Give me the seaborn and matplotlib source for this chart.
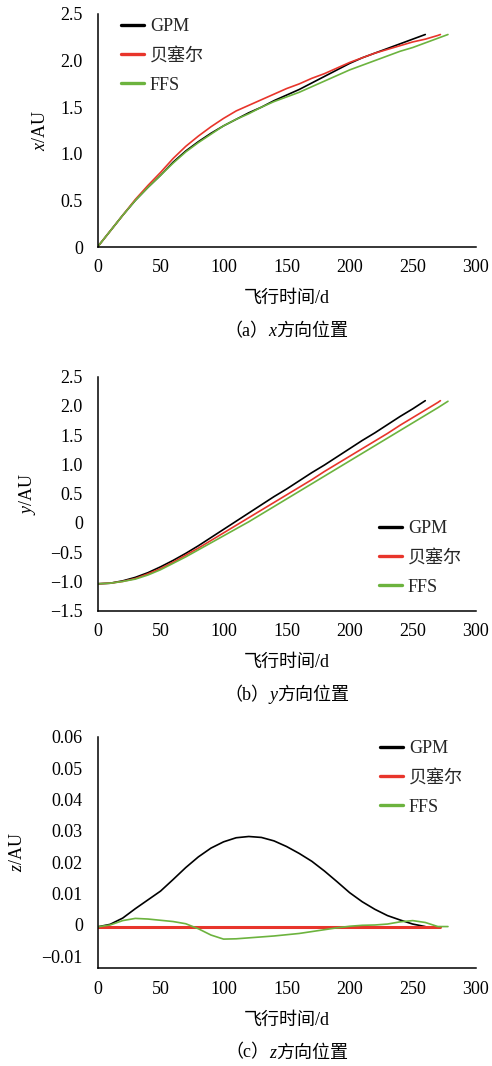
import matplotlib
matplotlib.use("Agg")
import matplotlib.pyplot as plt
from matplotlib.lines import Line2D
import pandas as pd
import seaborn as sns

methods = ["GPM", "贝塞尔", "FFS"]
colors = ["#000000", "#e8352b", "#6cb33e"]

# flight time (days) sampled per method
days_gpm = [0, 10, 20, 30, 40, 50, 60, 70, 80, 90, 100, 110, 120, 130, 140, 150,
            160, 170, 180, 190, 200, 210, 220, 230, 240, 250, 260]
days_bessel = [0, 10, 20, 30, 40, 50, 60, 70, 80, 90, 100, 110, 120, 130, 140, 150,
               160, 170, 180, 190, 200, 210, 220, 230, 240, 250, 260, 270, 272]
days_ffs = [0, 10, 20, 30, 40, 50, 60, 70, 80, 90, 100, 110, 120, 130, 140, 150,
            160, 170, 180, 190, 200, 210, 220, 230, 240, 250, 260, 270, 278]

# (a) x position, AU
x_gpm = [0, 0.17, 0.34, 0.50, 0.64, 0.77, 0.91, 1.03, 1.13, 1.22, 1.30, 1.37, 1.44, 1.50,
         1.57, 1.63, 1.69, 1.76, 1.83, 1.90, 1.97, 2.03, 2.08, 2.13, 2.18, 2.23, 2.28]
x_bessel = [0, 0.17, 0.34, 0.51, 0.66, 0.80, 0.95, 1.08, 1.19, 1.29, 1.38, 1.46, 1.52, 1.58,
            1.64, 1.70, 1.75, 1.81, 1.86, 1.92, 1.98, 2.03, 2.08, 2.12, 2.16, 2.20, 2.23,
            2.27, 2.28]
x_ffs = [0, 0.17, 0.34, 0.50, 0.64, 0.77, 0.90, 1.02, 1.12, 1.21, 1.30, 1.37, 1.43, 1.50,
         1.56, 1.61, 1.66, 1.72, 1.78, 1.84, 1.90, 1.95, 2.00, 2.05, 2.10, 2.14, 2.19,
         2.24, 2.28]

# (b) y position, AU
y_gpm = [-1.04, -1.03, -0.99, -0.93, -0.85, -0.75, -0.64, -0.52, -0.39, -0.25, -0.11, 0.03,
         0.17, 0.31, 0.45, 0.58, 0.72, 0.86, 0.99, 1.13, 1.27, 1.41, 1.54, 1.68, 1.82, 1.95,
         2.09]
y_bessel = [-1.04, -1.03, -1.00, -0.95, -0.87, -0.78, -0.67, -0.55, -0.43, -0.30, -0.17,
            -0.04, 0.09, 0.22, 0.35, 0.48, 0.61, 0.74, 0.88, 1.01, 1.14, 1.27, 1.40, 1.53,
            1.67, 1.80, 1.93, 2.06, 2.09]
y_ffs = [-1.04, -1.03, -1.00, -0.96, -0.89, -0.80, -0.69, -0.58, -0.46, -0.34, -0.22, -0.10,
         0.02, 0.15, 0.28, 0.41, 0.54, 0.67, 0.80, 0.93, 1.06, 1.19, 1.32, 1.45, 1.58, 1.71,
         1.84, 1.97, 2.08]

# (c) z position, AU
z_gpm = [-0.0006, 0.0002, 0.0022, 0.0052, 0.0080, 0.0108, 0.0145, 0.0183, 0.0217, 0.0245,
         0.0265, 0.0278, 0.0282, 0.0279, 0.0268, 0.0250, 0.0228, 0.0203, 0.0172, 0.0138,
         0.0103, 0.0074, 0.0050, 0.0030, 0.0016, 0.0003, -0.0005]
z_bessel = [-0.0006, -0.0006, -0.0006, -0.0006, -0.0006, -0.0006, -0.0006, -0.0006, -0.0006,
            -0.0006, -0.0006, -0.0006, -0.0006, -0.0006, -0.0006, -0.0006, -0.0006, -0.0006,
            -0.0006, -0.0006, -0.0006, -0.0006, -0.0006, -0.0006, -0.0006, -0.0006, -0.0006,
            -0.0006, -0.0006]
z_ffs = [-0.0006, 0.0000, 0.0014, 0.0021, 0.0019, 0.0015, 0.0011, 0.0004, -0.0012, -0.0032,
         -0.0045, -0.0044, -0.0041, -0.0038, -0.0035, -0.0031, -0.0027, -0.0021, -0.0015,
         -0.0009, -0.0004, -0.0001, 0.0000, 0.0003, 0.0010, 0.0014, 0.0008, -0.0005, -0.0005]

x_ticks = [0, 50, 100, 150, 200, 250, 300]
a_ticks = [0, 0.5, 1.0, 1.5, 2.0, 2.5]
a_labels = ["0", "0.5", "1.0", "1.5", "2.0", "2.5"]
b_ticks = [-1.5, -1.0, -0.5, 0, 0.5, 1.0, 1.5, 2.0, 2.5]
b_labels = ["\u22121.5", "\u22121.0", "\u22120.5", "0", "0.5", "1.0", "1.5", "2.0", "2.5"]
c_ticks = [-0.01, 0, 0.01, 0.02, 0.03, 0.04, 0.05, 0.06]
c_labels = ["\u22120.01", "0", "0.01", "0.02", "0.03", "0.04", "0.05", "0.06"]

sns.set_theme(style="white")
plt.rcParams["font.family"] = ["Liberation Serif", "Noto Sans CJK SC"]
plt.rcParams["mathtext.fontset"] = "custom"
plt.rcParams["mathtext.it"] = "Liberation Serif:italic"
plt.rcParams["mathtext.rm"] = "Liberation Serif"

FS = 13
W, H = 492, 1066
LEFT, RIGHT = 97.5, 475.7
fig = plt.figure(figsize=(W / 100, H / 100), dpi=100)


def long_frame(days, values):
    parts = []
    for m, d, v in zip(methods, days, values):
        parts.append(pd.DataFrame({"day": d, "value": v, "method": m}))
    return pd.concat(parts, ignore_index=True)


panels = [
    dict(top=14, bottom=247, values=(x_gpm, x_bessel, x_ffs), ylim=(0, 2.5),
         ticks=a_ticks, labels=a_labels, ylab="$x$/AU", ylab_px=40,
         leg=(121, 18), letter="a", var="x"),
    dict(top=376.7, bottom=610.7, values=(y_gpm, y_bessel, y_ffs), ylim=(-1.5, 2.5),
         ticks=b_ticks, labels=b_labels, ylab="$y$/AU", ylab_px=28,
         leg=(379, 520), letter="b", var="y"),
    dict(top=736.7, bottom=968.3, values=(z_gpm, z_bessel, z_ffs), ylim=(-0.0138, 0.06),
         ticks=c_ticks, labels=c_labels, ylab="$z$/AU", ylab_px=18,
         leg=(380, 740), letter="c", var="z"),
]

captions = []
for i, p in enumerate(panels):
    ax = fig.add_axes([LEFT / W, 1 - p["bottom"] / H, (RIGHT - LEFT) / W,
                       (p["bottom"] - p["top"]) / H])
    df = long_frame((days_gpm, days_bessel, days_ffs), p["values"])
    sns.lineplot(data=df, x="day", y="value", hue="method", hue_order=methods,
                 palette=colors, sort=False, estimator=None, linewidth=1.2,
                 legend=False, ax=ax)
    if i == 2:
        ax.lines[1].set_linewidth(2.2)
    ax.set_xlim(0, 300)
    ax.set_ylim(*p["ylim"])
    ax.set_xticks(x_ticks, labels=[str(t) for t in x_ticks])
    ax.set_yticks(p["ticks"], labels=p["labels"])
    ax.tick_params(axis="both", direction="in", length=4.5, width=1, color="black",
                   labelsize=FS, labelcolor="black")
    ax.tick_params(axis="x", pad=9)
    ax.tick_params(axis="y", pad=10.5)
    for s in ["top", "right"]:
        ax.spines[s].set_visible(False)
    for s in ["left", "bottom"]:
        ax.spines[s].set_color("black")
        ax.spines[s].set_linewidth(1.1)

    h_ax = p["bottom"] - p["top"]
    ax.set_xlabel("飞行时间/d", fontsize=FS, color="black")
    ax.xaxis.set_label_coords(0.5, -51.7 / h_ax)
    ax.xaxis.label.set_verticalalignment("center")
    ax.set_ylabel(p["ylab"], fontsize=FS, color="black")
    ax.yaxis.set_label_coords((p["ylab_px"] - LEFT) / (RIGHT - LEFT), 0.5)
    ax.yaxis.label.set_verticalalignment("center")

    handles = [Line2D([], [], color=c, linewidth=2.4) for c in colors]
    lx, ly = p["leg"]
    ax.legend(handles, methods, loc="upper left", bbox_to_anchor=(lx / W, 1 - ly / H),
              bbox_transform=fig.transFigure, frameon=False, fontsize=FS,
              handlelength=1.25, handletextpad=0.35, labelspacing=0.68,
              borderpad=0, borderaxespad=0)

    # caption: (a) x方向位置 with italic variable
    cy = 1 - (p["bottom"] + 84.7) / H
    pieces = [("（%s）" % p["letter"], "normal"), (p["var"], "italic"), ("方向位置", "normal")]
    texts = [fig.text(0, cy, s, style=st, fontsize=FS, va="center", ha="left",
                      color="black") for s, st in pieces]
    captions.append(texts)

fig.canvas.draw()
renderer = fig.canvas.get_renderer()
center = (LEFT + RIGHT) / 2
for texts in captions:
    widths = [t.get_window_extent(renderer).width for t in texts]
    x0 = center - sum(widths) / 2
    for t, w in zip(texts, widths):
        t.set_x(x0 / W)
        x0 += w

fig.savefig("out.png", dpi=100, facecolor="white")
